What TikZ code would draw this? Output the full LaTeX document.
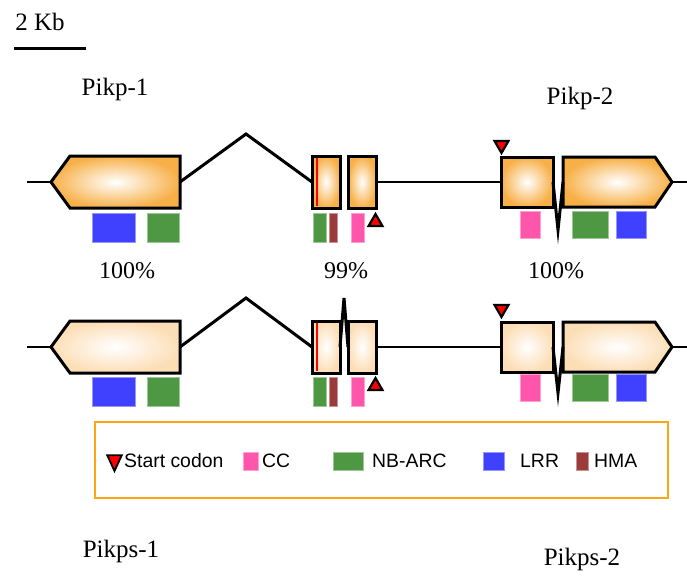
\documentclass[tikz,border=0pt]{standalone}
\usepackage{fontspec}
\setmainfont{Liberation Serif}
\newfontfamily\legendfont{Liberation Sans}
\usetikzlibrary{shapes,positioning}
\definecolor{geneA}{RGB}{247,176,72}
\definecolor{geneB}{RGB}{252,222,182}
\definecolor{ccpink}{RGB}{255,85,170}
\definecolor{nbgreen}{RGB}{78,152,68}
\definecolor{lrrblue}{RGB}{64,64,255}
\definecolor{hmabrown}{RGB}{155,60,58}
\definecolor{legendorange}{RGB}{255,165,20}
\tikzset{%
exonA/.style={inner color=white, outer color=geneA, inner sep=0pt, outer sep=0pt,
	postaction={draw=black, line width=3pt}},
exonB/.style={exonA, outer color=geneB},
intron/.style={draw=black, line width=3pt},
backbone/.style={draw=black, line width=2.6pt},
dom/.style={fill=#1, draw=#1!55!white, line width=0.6pt, inner sep=0pt, outer sep=0pt},
codon/.style={regular polygon, regular polygon sides=3, draw=black, fill=red, line width=2.2pt, inner sep=0pt, minimum size=16pt},
codondown/.style={codon, shape border rotate=180}
}

\begin{document}
\begin{tikzpicture}[x=1pt, y=-1pt,
		genelabel/.style={font=\fontsize{25}{28}\selectfont, anchor=base, inner sep=0pt},
		pct/.style={font=\fontsize{24}{27}\selectfont, anchor=base, inner sep=0pt},
		leg/.style={font=\legendfont\fontsize{19.4}{22}\selectfont, anchor=west, inner sep=0pt}]
		\useasboundingbox (0,0) rectangle (687,576);

		% scale bar
		\node[genelabel] (kb) at (40,30) {2 Kb};
		\coordinate (bar0) at (14,48);
		\coordinate (bar1) at (86,48);
		\draw[line width=3pt] (bar0) -- (bar1);

		\node[genelabel] (pikp1) at (115,95) {Pikp-1};
		\node[genelabel] (pikp2) at (580,104) {Pikp-2};
		\node[pct] (idA) at (127,278) {100\%};
		\node[pct] (idB) at (346,278) {99\%};
		\node[pct] (idC) at (556,278) {100\%};
		\node[genelabel] (pikps1) at (121,557) {Pikps-1};
		\node[genelabel] (pikps2) at (582,565) {Pikps-2};

		% Pikp row
		\coordinate (r1L) at (27,182);
		\coordinate (r1tipL) at (51,182);
		\coordinate (r1tipR) at (672,182);
		\coordinate (r1R) at (687,182);
		\draw[backbone] (r1L) -- (r1tipL);
		\draw[backbone] (r1tipR) -- (r1R);
		\path[exonA] (51,182) -- (70,156) -- (180,156) -- (180,208) -- (70,208) -- cycle;
		\coordinate (r1a) at (180,182);
		\node[exonA, minimum width=28pt, minimum height=52pt] (r1x2) at (326,182) {};
		\node[exonA, minimum width=28pt, minimum height=52pt] (r1x3) at (362,182) {};
		\node[exonA, minimum width=52pt, minimum height=50pt] (r1x4) at (527,182) {};
		\path[exonA] (563,157) -- (655,157) -- (672,182) -- (655,207) -- (563,207) -- cycle;
		\coordinate (r1b) at (563,182);
		\coordinate (r1top) at (246,134);
		\coordinate (r1dip) at (558,230);
		\draw[intron] (r1a) -- (r1top) -- (r1x2.west);
		\draw[backbone] (r1x3.east) -- (r1x4.west);
		\draw[intron] (r1x4.east) -- (r1dip) -- (r1b);
		\draw[red, line width=2pt, shorten <=1.6pt, shorten >=1.6pt] ([xshift=4.8pt]r1x2.north west) -- ([xshift=4.8pt]r1x2.south west);

		\node[dom=lrrblue, minimum width=43pt, minimum height=29pt] (r1lrr) at (113.5,227.5) {};
		\node[dom=nbgreen, minimum width=32pt, minimum height=29pt] (r1nb) at (163,227.5) {};
		\node[dom=nbgreen, minimum width=13pt, minimum height=29pt] (r1nb2) at (319.5,227.5) {};
		\node[dom=hmabrown, minimum width=8pt, minimum height=29pt] (r1hma) at (333,227.5) {};
		\node[dom=ccpink, minimum width=13pt, minimum height=29pt] (r1cc) at (357.5,227.5) {};
		\node[codon] (r1start1) at (375.5,222) {};
		\node[codondown] (r1start2) at (501.5,145) {};
		\node[dom=ccpink, minimum width=20pt, minimum height=27pt] (r1cc2) at (530,224.5) {};
		\node[dom=nbgreen, minimum width=36pt, minimum height=27pt] (r1nb3) at (590,224.5) {};
		\node[dom=lrrblue, minimum width=30pt, minimum height=27pt] (r1lrr2) at (631,224.5) {};

		% Pikps row
		\coordinate (r2L) at (27,347);
		\coordinate (r2tipL) at (51,347);
		\coordinate (r2tipR) at (672,347);
		\coordinate (r2R) at (687,347);
		\draw[backbone] (r2L) -- (r2tipL);
		\draw[backbone] (r2tipR) -- (r2R);
		\path[exonB] (51,347) -- (70,321) -- (180,321) -- (180,373) -- (70,373) -- cycle;
		\coordinate (r2a) at (180,347);
		\node[exonB, minimum width=28pt, minimum height=52pt] (r2x2) at (326,347) {};
		\node[exonB, minimum width=28pt, minimum height=52pt] (r2x3) at (362,347) {};
		\node[exonB, minimum width=52pt, minimum height=50pt] (r2x4) at (527,347) {};
		\path[exonB] (563,322) -- (655,322) -- (672,347) -- (655,372) -- (563,372) -- cycle;
		\coordinate (r2b) at (563,347);
		\coordinate (r2top) at (246,298);
		\coordinate (r2peak) at (344,298);
		\coordinate (r2dip) at (558,393);
		\draw[intron] (r2a) -- (r2top) -- (r2x2.west);
		\draw[intron] (r2x2.east) -- (r2peak) -- (r2x3.west);
		\draw[backbone] (r2x3.east) -- (r2x4.west);
		\draw[intron] (r2x4.east) -- (r2dip) -- (r2b);
		\draw[red, line width=2pt, shorten <=1.6pt, shorten >=1.6pt] ([xshift=4.8pt]r2x2.north west) -- ([xshift=4.8pt]r2x2.south west);

		\node[dom=lrrblue, minimum width=43pt, minimum height=29pt] (r2lrr) at (113.5,392) {};
		\node[dom=nbgreen, minimum width=32pt, minimum height=29pt] (r2nb) at (163,392) {};
		\node[dom=nbgreen, minimum width=13pt, minimum height=29pt] (r2nb2) at (319.5,392) {};
		\node[dom=hmabrown, minimum width=8pt, minimum height=29pt] (r2hma) at (333,392) {};
		\node[dom=ccpink, minimum width=13pt, minimum height=29pt] (r2cc) at (357.5,392) {};
		\node[codon] (r2start1) at (375.5,386) {};
		\node[codondown] (r2start2) at (501.5,309) {};
		\node[dom=ccpink, minimum width=20pt, minimum height=27pt] (r2cc2) at (530,387.5) {};
		\node[dom=nbgreen, minimum width=36pt, minimum height=27pt] (r2nb3) at (590,387.5) {};
		\node[dom=lrrblue, minimum width=30pt, minimum height=27pt] (r2lrr2) at (631,387.5) {};

		% legend
		\node[draw=legendorange, line width=1.6pt, minimum width=573pt, minimum height=76pt, inner sep=0pt] (legend) at (381.5,460) {};
		\node[codondown, minimum size=21pt, xscale=0.8, line width=1.8pt] (legcodon) at (114.5,460.5) {};
		\node[leg] (legstart) at (124,461) {Start codon};
		\node[dom=ccpink, minimum width=15pt, minimum height=18pt] (legcc) at (250.5,461) {};
		\node[leg, right=4pt of legcc] (legcctext) {CC};
		\node[dom=nbgreen, minimum width=30pt, minimum height=18pt] (legnb) at (348,461) {};
		\node[leg, right=9pt of legnb] (legnbtext) {NB-ARC};
		\node[dom=lrrblue, minimum width=21pt, minimum height=18pt] (leglrr) at (493.5,461) {};
		\node[leg, right=16pt of leglrr] (leglrrtext) {LRR};
		\node[dom=hmabrown, minimum width=12pt, minimum height=18pt] (leghma) at (582,461) {};
		\node[leg, right=6pt of leghma] (leghmatext) {HMA};
	\end{tikzpicture}
\end{document}
